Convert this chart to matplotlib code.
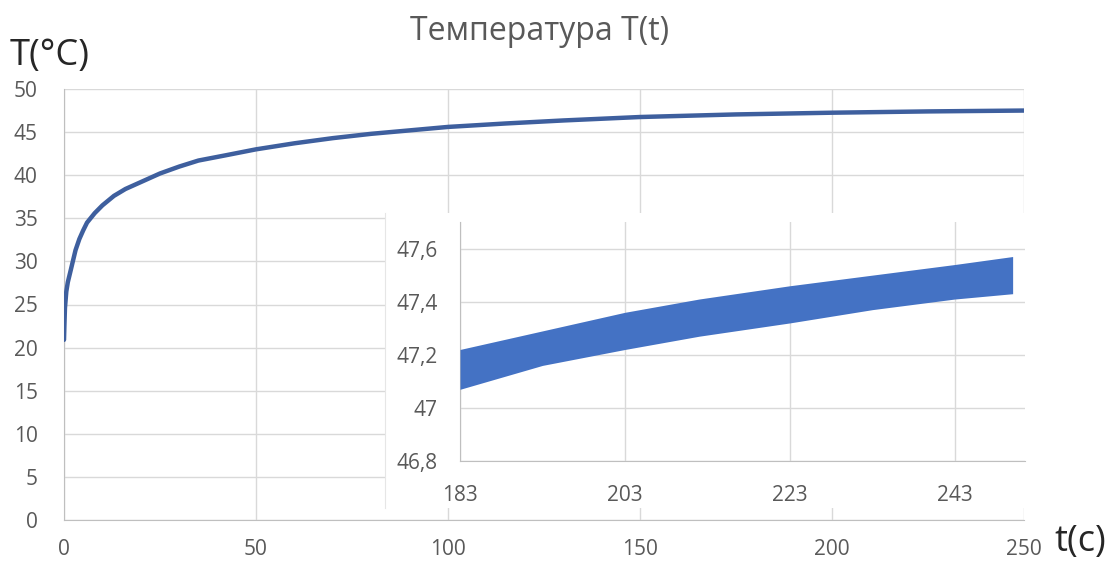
import numpy as np
import matplotlib.pyplot as plt

# ── data ────────────────────────────────────────────────────────────────────
t_main = [0, 0.1, 0.25, 0.6, 1, 1.6, 2.3, 3, 4, 5, 6, 8, 10, 13, 16, 20, 25,
          30, 35, 42, 50, 60, 70, 80, 90, 100, 115, 130, 150, 175, 200, 225, 250]
T_main = [20.9, 22.5, 24.6, 26.5, 27.6, 28.7, 30.0, 31.3, 32.6, 33.6, 34.5,
          35.6, 36.5, 37.6, 38.4, 39.2, 40.2, 41.0, 41.7, 42.3, 43.0, 43.7,
          44.3, 44.8, 45.2, 45.6, 46.0, 46.35, 46.75, 47.05, 47.25, 47.4, 47.5]

# inset: envelope of the oscillating signal
t_zoom = [183, 193, 203, 212, 223, 233, 243, 250]
T_upper = [47.22, 47.29, 47.36, 47.41, 47.46, 47.50, 47.54, 47.57]
T_lower = [47.07, 47.16, 47.22, 47.27, 47.32, 47.37, 47.41, 47.43]

main_xticks = [0, 50, 100, 150, 200, 250]
main_yticks = [0, 5, 10, 15, 20, 25, 30, 35, 40, 45, 50]
zoom_xticks = [183, 203, 223, 243]
zoom_yticks = [46.8, 47.0, 47.2, 47.4, 47.6]
zoom_ylabels = ['46,8', '47', '47,2', '47,4', '47,6']

plt.rcParams['font.family'] = ['Open Sans', 'DejaVu Sans']
W, H = 1114, 568
grid_c = '#d9d9d9'
text_c = '#595959'
line_c = '#3e5f9e'
fill_c = '#4472c4'


def px_rect(x0, y0, x1, y1):
    # pixel box (top-left origin) -> figure fraction rect
    return [x0 / W, 1 - y1 / H, (x1 - x0) / W, (y1 - y0) / H]


fig = plt.figure(figsize=(W / 100, H / 100), dpi=100)

# ── main chart ──────────────────────────────────────────────────────────────
ax = fig.add_axes(px_rect(64, 89, 1024, 520))
ax.plot(t_main, T_main, color=line_c, lw=3.2, solid_capstyle='round', zorder=3)
ax.set_xlim(0, 250)
ax.set_ylim(0, 50)
ax.set_xticks(main_xticks)
ax.set_yticks(main_yticks)
ax.grid(True, color=grid_c, lw=1.0)
ax.tick_params(length=0, labelsize=15, colors=text_c)
ax.tick_params(axis='x', pad=14)
ax.tick_params(axis='y', pad=19)
for s in ['top', 'right']:
    ax.spines[s].set_visible(False)
for s in ['left', 'bottom']:
    ax.spines[s].set_color('#bfbfbf')

fig.text(540 / W, 1 - 32 / H, 'Температура T(t)', ha='center', va='center',
         fontsize=23, color=text_c)
fig.text(10 / W, 1 - 56 / H, 'T(°C)', ha='left', va='center',
         fontsize=26, color='#262626')
fig.text(1054 / W, 1 - 542 / H, 't(c)', ha='left', va='center',
         fontsize=26, color='#262626')

# ── inset chart ─────────────────────────────────────────────────────────────
bg = fig.add_axes(px_rect(385, 213, 1030, 508))
bg.set_xticks([])
bg.set_yticks([])
bg.set_facecolor('white')
for s in bg.spines.values():
    s.set_color('#e6e6e6')
bg.spines['top'].set_visible(False)
bg.spines['right'].set_visible(False)
bg.spines['bottom'].set_visible(False)

ins = fig.add_axes(px_rect(460, 222, 1025, 461))
ins.fill_between(t_zoom, T_lower, T_upper, color=fill_c, lw=0, zorder=3)
ins.set_xlim(183, 251.5)
ins.set_ylim(46.8, 47.7)
ins.set_xticks(zoom_xticks)
ins.set_yticks(zoom_yticks)
ins.set_yticklabels(zoom_ylabels)
ins.grid(True, color=grid_c, lw=1.0)
ins.tick_params(length=0, labelsize=15, colors=text_c)
ins.tick_params(axis='x', pad=17)
ins.tick_params(axis='y', pad=16)
for s in ['top', 'right']:
    ins.spines[s].set_visible(False)
for s in ['left', 'bottom']:
    ins.spines[s].set_color('#bfbfbf')

fig.savefig('out.png', dpi=100)
